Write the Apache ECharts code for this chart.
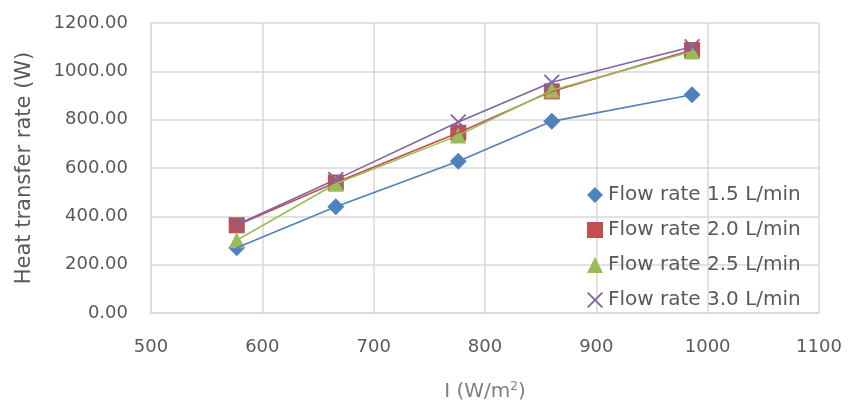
<!DOCTYPE html>
<html>
<head>
<meta charset="utf-8">
<script src="https://cdn.jsdelivr.net/npm/echarts@6/dist/echarts.min.js"></script>
<style>
html,body{margin:0;padding:0;background:#fff;}
#c{width:849px;height:407px;}
</style>
</head>
<body>
<div id="c"></div>
<script>
// Data
const irradiance = [577, 666, 776, 860, 986];
const flow15 = [270, 440, 628, 793, 903];
const flow20 = [363, 540, 746, 917, 1088];
const flow25 = [301, 535, 735, 922, 1082];
const flow30 = [365, 552, 790, 955, 1102];
const seriesNames = ['Flow rate 1.5 L/min', 'Flow rate 2.0 L/min', 'Flow rate 2.5 L/min', 'Flow rate 3.0 L/min'];
const yTicks = [0, 200, 400, 600, 800, 1000, 1200];
const xTicks = [500, 600, 700, 800, 900, 1000, 1100];

const colors = ['#4F81BD', '#C0504D', '#9BBB59', '#8064A2'];
const crossPath = 'path://M0,0.8L0.8,0L5,4.2L9.2,0L10,0.8L5.8,5L10,9.2L9.2,10L5,5.8L0.8,10L0,9.2L4.2,5Z';
const symbols = ['diamond', 'rect', 'triangle', crossPath];
const symbolSizes = [17, 16, 16, 16];
const allValues = [flow15, flow20, flow25, flow30];

function pairs(vals) { return irradiance.map((x, i) => [x, vals[i]]); }

const series = [];
allValues.forEach((vals, k) => {
  series.push({
    name: seriesNames[k],
    type: 'scatter',
    data: pairs(vals),
    symbol: symbols[k],
    symbolSize: symbolSizes[k],
    itemStyle: { color: colors[k], opacity: 1 },
    z: 2
  });
});
allValues.forEach((vals, k) => {
  series.push({
    name: seriesNames[k] + ' trend',
    type: 'line',
    data: pairs(vals),
    smooth: false,
    showSymbol: false,
    symbol: 'none',
    lineStyle: { color: colors[k], width: 1.6 },
    z: 3,
    silent: true
  });
});

const chart = echarts.init(document.getElementById('c'), null, { renderer: 'canvas' });
chart.setOption({
  animation: false,
  backgroundColor: '#fff',
  textStyle: { fontFamily: 'DejaVu Sans' },
  grid: { left: 151, right: 30, top: 23, bottom: 92 },
  legend: {
    data: seriesNames,
    orient: 'vertical',
    left: 582,
    top: 180,
    itemGap: 15,
    itemWidth: 16,
    itemHeight: 16,
    textStyle: { fontSize: 20, color: '#595959', fontFamily: 'DejaVu Sans' }
  },
  xAxis: {
    type: 'value',
    min: xTicks[0],
    max: xTicks[xTicks.length - 1],
    interval: 100,
    name: '{a|I (W/m}{b|2}{a|)}',
    nameLocation: 'middle',
    nameGap: 68,
    nameTextStyle: {
      rich: {
        a: { fontSize: 20, color: '#7f7f7f', fontFamily: 'DejaVu Sans' },
        b: { fontSize: 12, color: '#7f7f7f', fontFamily: 'DejaVu Sans', verticalAlign: 'top', padding: [0, 0, 10, 0] }
      }
    },
    axisLine: { show: true, lineStyle: { color: '#D9D9D9', width: 1.5 } },
    axisTick: { show: false },
    splitLine: { show: true, lineStyle: { color: '#D9D9D9', width: 1.5 } },
    axisLabel: { fontSize: 18, color: '#595959', margin: 25, formatter: v => String(v) }
  },
  yAxis: {
    type: 'value',
    min: yTicks[0],
    max: yTicks[yTicks.length - 1],
    interval: 200,
    name: 'Heat transfer rate (W)',
    nameLocation: 'middle',
    nameGap: 116,
    nameTextStyle: { fontSize: 21, color: '#595959', fontFamily: 'DejaVu Sans' },
    axisLine: { show: true, lineStyle: { color: '#D9D9D9', width: 1.5 } },
    axisTick: { show: false },
    splitLine: { show: true, lineStyle: { color: '#D9D9D9', width: 1.5 } },
    axisLabel: { fontSize: 18, color: '#595959', margin: 23, formatter: v => v.toFixed(2) }
  },
  series: series
});
</script>
</body>
</html>
